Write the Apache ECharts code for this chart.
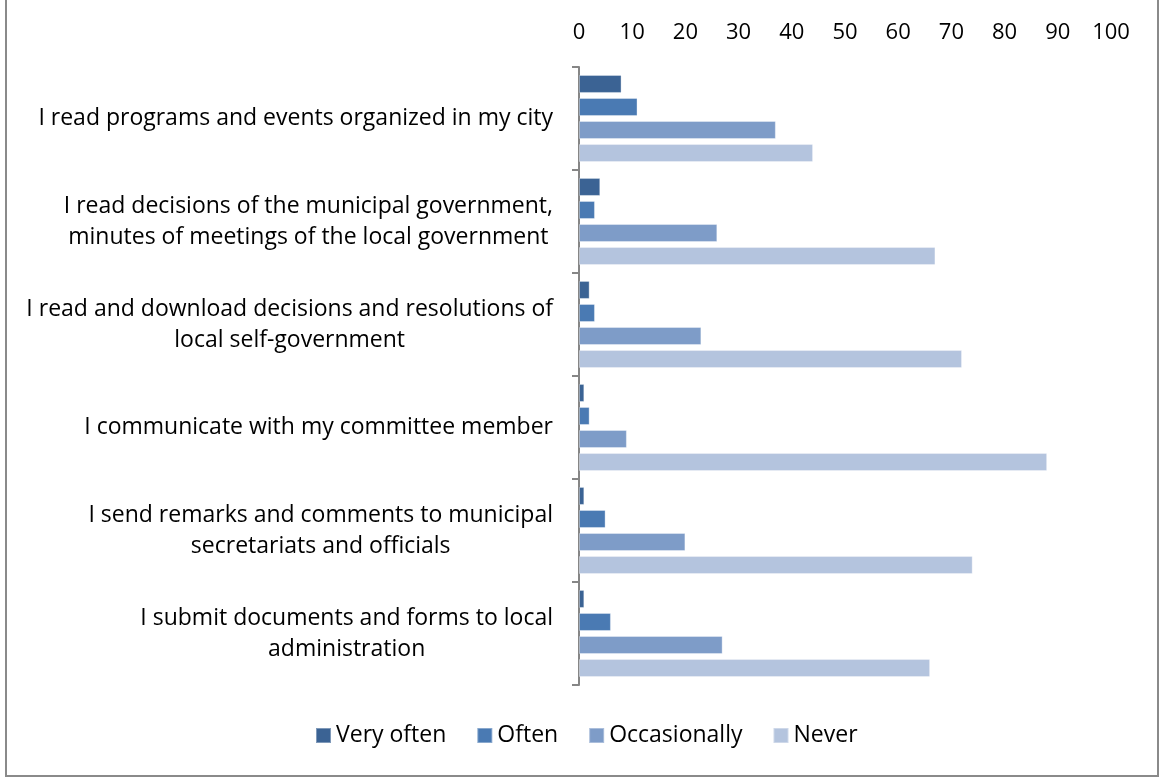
<!DOCTYPE html>
<html>
<head>
<meta charset="utf-8">
<script src="https://cdn.jsdelivr.net/npm/echarts@6/dist/echarts.min.js"></script>
<style>
  html, body { margin: 0; padding: 0; background: #fff; }
  #frame {
    position: absolute; left: 5px; top: 0; width: 1150px; height: 775px;
    border-left: 2px solid #8a8a8a; border-right: 2px solid #8a8a8a; border-bottom: 2px solid #8a8a8a;
    box-sizing: content-box;
  }
  #chart { position: absolute; left: 0; top: 0; width: 1160px; height: 780px; }
</style>
</head>
<body>
<div id="frame"></div>
<div id="chart"></div>
<script>
// Survey statements (top to bottom), lines split as displayed
const categories = [
  ['I read programs and events organized in my city'],
  ['I read decisions of the municipal government,', 'minutes of meetings of the local government'],
  ['I read and download decisions and resolutions of', 'local self-government'],
  ['I communicate with my committee member'],
  ['I send remarks and comments to municipal', 'secretariats and officials'],
  ['I submit documents and forms to local', 'administration']
];
const seriesNames = ['Very often', 'Often', 'Occasionally', 'Never'];
const veryOften = [8, 4, 2, 1, 1, 1];
const often = [11, 3, 3, 2, 5, 6];
const occasionally = [37, 26, 23, 9, 20, 27];
const never = [44, 67, 72, 88, 74, 66];
const axisTicks = [0, 10, 20, 30, 40, 50, 60, 70, 80, 90, 100];

const colors = ['#3b6394', '#4a7ab3', '#7e9cc8', '#b4c4de'];
const values = [veryOften, often, occasionally, never];
const font = '"Open Sans"';
const fs = 23;

const chart = echarts.init(document.getElementById('chart'), null, { renderer: 'canvas' });

const option = {
  animation: false,
  textStyle: { fontFamily: font },
  grid: { left: 579, right: 49, top: 67, bottom: 95, containLabel: false },
  legend: {
    bottom: 28,
    left: 310,
    itemWidth: 15,
    itemHeight: 15,
    itemGap: 30,
    icon: 'rect',
    textStyle: { fontSize: fs, color: '#000', fontFamily: font },
    data: seriesNames
  },
  xAxis: {
    type: 'value',
    position: 'top',
    min: axisTicks[0],
    max: axisTicks[axisTicks.length - 1],
    interval: axisTicks[1] - axisTicks[0],
    axisLine: { show: false },
    axisTick: { show: false },
    splitLine: { show: false },
    axisLabel: { fontSize: 22, color: '#000', margin: 23, fontFamily: font }
  },
  yAxis: {
    type: 'category',
    inverse: true,
    data: categories.map(c => c.join('\n')),
    axisLine: { show: true, lineStyle: { color: '#868686', width: 2 } },
    axisTick: { show: true, length: 7, lineStyle: { color: '#868686', width: 2 } },
    axisLabel: {
      fontSize: fs,
      color: '#000',
      margin: 26,
      align: 'right',
      fontFamily: font,
      formatter: function (v) {
        return v.split('\n').map(l => '{c|' + l + '}').join('\n');
      },
      rich: {
        c: { align: 'center', fontSize: fs, color: '#000', fontFamily: font, lineHeight: 31 }
      }
    }
  },
  series: seriesNames.map((name, i) => ({
    name: name,
    type: 'bar',
    data: values[i],
    barWidth: 18,
    barGap: '28%',
    barCategoryGap: '15%',
    itemStyle: { color: colors[i], borderColor: 'rgba(255,255,255,0.35)', borderWidth: 1 }
  }))
};

chart.setOption(option);
</script>
</body>
</html>
